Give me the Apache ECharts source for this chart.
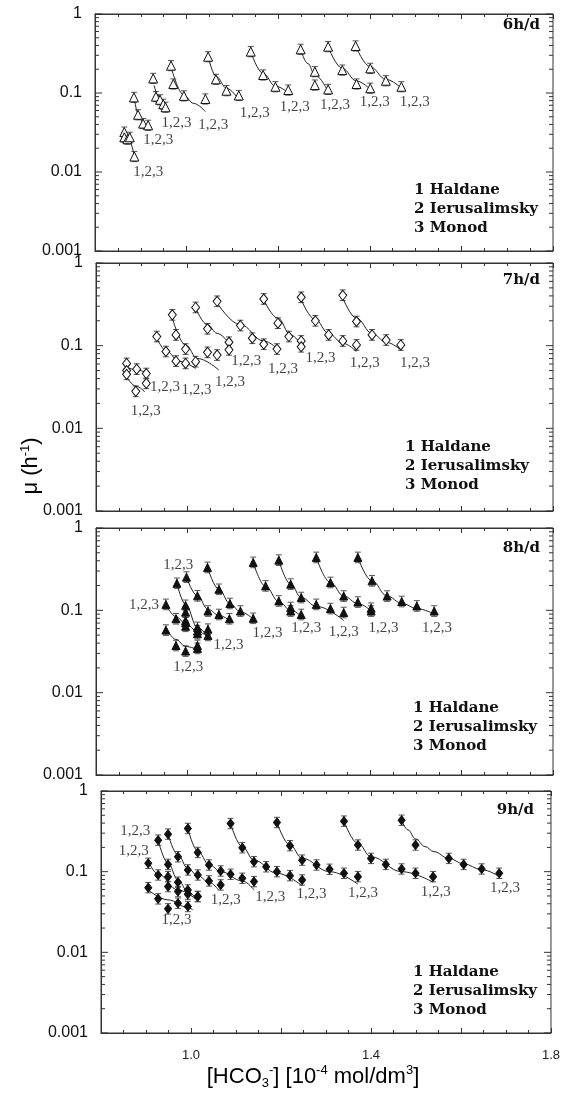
<!DOCTYPE html>
<html>
<head>
<meta charset="utf-8">
<script src="https://cdn.jsdelivr.net/npm/echarts@6/dist/echarts.min.js"></script>
<style>
  html, body { margin: 0; padding: 0; background: #fff; }
  #chart { width: 563px; height: 1095px; }
</style>
</head>
<body>
<div id="chart"></div>
<script>
// text
var PANEL_TAGS = ['6h/d', '7h/d', '8h/d', '9h/d'];
var LEGEND_LINES = ['1 Haldane', '2 Ierusalimsky', '3 Monod'];
var GROUP_LABEL = '1,2,3';
var X_TICK_LABELS = ['1.0', '1.4', '1.8'];
var Y_TICK_LABELS = ['0.001', '0.01', '0.1', '1'];
var Y_MAJOR = [0.001, 0.01, 0.1, 1];
var Y_MINOR = [0.002, 0.003, 0.004, 0.005, 0.006, 0.007, 0.008, 0.009,
               0.02, 0.03, 0.04, 0.05, 0.06, 0.07, 0.08, 0.09,
               0.2, 0.3, 0.4, 0.5, 0.6, 0.7, 0.8, 0.9];
var ERR = 1.16; // error bars, read as roughly +/-16 %

// 6 h/d : measured points per run, fitted curves, label spots
var p6Points = [
  [[0.864, 0.032], [0.864, 0.0275], [0.871, 0.026], [0.876, 0.0275], [0.886, 0.0157]],
  [[0.885, 0.088], [0.894, 0.053], [0.905, 0.041], [0.916, 0.039]],
  [[0.927, 0.153], [0.933, 0.090], [0.942, 0.082], [0.949, 0.072], [0.954, 0.066]],
  [[0.966, 0.222], [0.971, 0.130], [0.994, 0.092], [1.041, 0.084]],
  [[1.047, 0.288], [1.064, 0.149], [1.087, 0.107], [1.114, 0.093]],
  [[1.140, 0.334], [1.167, 0.169], [1.194, 0.120], [1.222, 0.109]],
  [[1.249, 0.357], [1.280, 0.186], [1.280, 0.126], [1.309, 0.111]],
  [[1.309, 0.386], [1.340, 0.195], [1.371, 0.130], [1.401, 0.115]],
  [[1.369, 0.394], [1.401, 0.205], [1.435, 0.143], [1.469, 0.120]]
];
var p6Fits = [
  [[0.866, 0.030], [0.876, 0.024], [0.886, 0.0156]],
  [[0.885, 0.092], [0.894, 0.055], [0.906, 0.041], [0.916, 0.035]],
  [[0.929, 0.125], [0.937, 0.095], [0.945, 0.077], [0.955, 0.063]],
  [[0.966, 0.215], [0.994, 0.094], [1.015, 0.074], [1.041, 0.058]],
  [[1.047, 0.288], [1.065, 0.161], [1.087, 0.115], [1.114, 0.082]],
  [[1.140, 0.334], [1.167, 0.177], [1.194, 0.122], [1.225, 0.097]],
  [[1.249, 0.357], [1.265, 0.235], [1.280, 0.169], [1.309, 0.104]],
  [[1.309, 0.386], [1.340, 0.205], [1.371, 0.142], [1.401, 0.111]],
  [[1.369, 0.394], [1.401, 0.215], [1.435, 0.149], [1.469, 0.115]]
];
var p6Labels = [[0.916, 0.0101], [0.938, 0.0254], [0.978, 0.0413], [1.058, 0.0394], [1.149, 0.0553],
                [1.236, 0.0671], [1.324, 0.0705], [1.411, 0.0777], [1.498, 0.0777]];

// 7 h/d
var p7Points = [
  [[0.867, 0.061], [0.889, 0.052], [0.910, 0.046]],
  [[0.867, 0.050], [0.867, 0.045], [0.887, 0.028], [0.910, 0.035]],
  [[0.933, 0.129], [0.953, 0.085], [0.975, 0.065], [0.996, 0.061], [1.018, 0.064]],
  [[0.967, 0.236], [0.975, 0.135], [0.996, 0.091], [1.044, 0.083], [1.065, 0.077]],
  [[1.018, 0.290], [1.044, 0.160], [1.091, 0.110], [1.091, 0.089]],
  [[1.065, 0.344], [1.116, 0.175], [1.142, 0.123], [1.167, 0.104], [1.196, 0.091]],
  [[1.167, 0.367], [1.198, 0.187], [1.222, 0.129], [1.249, 0.114], [1.249, 0.097]],
  [[1.249, 0.385], [1.280, 0.200], [1.309, 0.135], [1.340, 0.114], [1.370, 0.102]],
  [[1.340, 0.407], [1.370, 0.196], [1.404, 0.135], [1.435, 0.117], [1.467, 0.102]]
];
var p7Fits = [
  [[0.867, 0.055], [0.889, 0.051], [0.910, 0.047]],
  [[0.867, 0.042], [0.887, 0.0325], [0.907, 0.0275]],
  [[0.933, 0.123], [0.956, 0.085], [0.980, 0.065], [1.018, 0.053]],
  [[0.967, 0.215], [0.996, 0.102], [1.022, 0.070], [1.069, 0.0505]],
  [[1.018, 0.285], [1.044, 0.179], [1.065, 0.141], [1.091, 0.107]],
  [[1.065, 0.330], [1.116, 0.179], [1.167, 0.114], [1.200, 0.0885]],
  [[1.167, 0.360], [1.198, 0.215], [1.226, 0.135], [1.249, 0.102]],
  [[1.249, 0.360], [1.280, 0.206], [1.309, 0.141], [1.340, 0.107], [1.370, 0.0845]],
  [[1.340, 0.378], [1.370, 0.215], [1.404, 0.141], [1.435, 0.110], [1.467, 0.0885]]
];
var p7Labels = [[0.909, 0.0164], [0.951, 0.0316], [1.020, 0.0288], [1.093, 0.0364], [1.129, 0.065],
                [1.209, 0.0519], [1.291, 0.070], [1.388, 0.061], [1.498, 0.061]];

// 8 h/d
var p8Points = [
  [[0.953, 0.0575], [0.975, 0.0374], [0.996, 0.032], [1.022, 0.0374], [1.022, 0.0345]],
  [[0.953, 0.118], [0.975, 0.079], [0.996, 0.071], [1.022, 0.056], [1.045, 0.0496]],
  [[0.977, 0.213], [0.996, 0.115], [0.996, 0.095], [0.996, 0.075], [0.996, 0.064],
   [1.022, 0.062], [1.022, 0.052], [1.045, 0.059]],
  [[0.998, 0.253], [1.022, 0.150], [1.045, 0.098], [1.069, 0.089], [1.092, 0.079]],
  [[1.044, 0.332], [1.069, 0.180], [1.093, 0.121], [1.116, 0.098], [1.144, 0.080]],
  [[1.144, 0.382], [1.171, 0.198], [1.200, 0.130], [1.226, 0.108], [1.226, 0.098], [1.249, 0.089]],
  [[1.200, 0.407], [1.226, 0.208], [1.249, 0.143], [1.282, 0.118], [1.313, 0.105], [1.342, 0.094]],
  [[1.282, 0.439], [1.313, 0.218], [1.342, 0.149], [1.373, 0.126], [1.402, 0.106], [1.402, 0.098]],
  [[1.373, 0.439], [1.404, 0.228], [1.437, 0.149], [1.469, 0.128], [1.502, 0.113], [1.540, 0.098]]
];
var p8Fits = [
  [[0.953, 0.062], [0.975, 0.0443], [0.996, 0.0364], [1.022, 0.0334]],
  [[0.953, 0.118], [0.975, 0.084], [0.996, 0.069], [1.022, 0.0555], [1.045, 0.047]],
  [[0.977, 0.213], [0.996, 0.118], [1.022, 0.062], [1.045, 0.047]],
  [[0.998, 0.253], [1.022, 0.150], [1.045, 0.103], [1.069, 0.087], [1.092, 0.075]],
  [[1.044, 0.332], [1.069, 0.180], [1.093, 0.121], [1.116, 0.096], [1.144, 0.078]],
  [[1.144, 0.382], [1.171, 0.195], [1.200, 0.128], [1.226, 0.100], [1.249, 0.085]],
  [[1.200, 0.407], [1.226, 0.208], [1.249, 0.143], [1.282, 0.112], [1.342, 0.075]],
  [[1.282, 0.439], [1.313, 0.218], [1.342, 0.149], [1.373, 0.121], [1.402, 0.098]],
  [[1.373, 0.439], [1.404, 0.228], [1.437, 0.149], [1.469, 0.122], [1.502, 0.105], [1.540, 0.090]]
];
var p8Labels = [[0.905, 0.116], [0.980, 0.350], [1.002, 0.0202], [1.090, 0.0374], [1.175, 0.0535],
                [1.260, 0.0603], [1.342, 0.055], [1.429, 0.0603], [1.546, 0.0603]];

// 9 h/d
var p9Points = [
  [[0.905, 0.0634], [0.927, 0.046], [0.949, 0.0346], [0.971, 0.0406], [0.993, 0.037]],
  [[0.905, 0.127], [0.927, 0.091], [0.949, 0.0653], [0.971, 0.0567], [0.993, 0.0526], [1.015, 0.0492]],
  [[0.927, 0.246], [0.949, 0.123], [0.949, 0.0868], [0.971, 0.074], [0.993, 0.0594], [1.015, 0.0492]],
  [[0.949, 0.292], [0.971, 0.153], [0.993, 0.105], [1.015, 0.091], [1.040, 0.0768], [1.066, 0.0685]],
  [[0.993, 0.343], [1.015, 0.173], [1.040, 0.121], [1.066, 0.102], [1.088, 0.0928], [1.114, 0.0828], [1.140, 0.0753]],
  [[1.088, 0.395], [1.114, 0.198], [1.140, 0.133], [1.167, 0.115], [1.191, 0.100], [1.220, 0.0893], [1.247, 0.0789]],
  [[1.191, 0.407], [1.220, 0.210], [1.247, 0.139], [1.279, 0.121], [1.308, 0.107], [1.340, 0.0955], [1.371, 0.0868]],
  [[1.340, 0.423], [1.371, 0.214], [1.400, 0.146], [1.433, 0.123], [1.468, 0.108], [1.499, 0.0955], [1.538, 0.0868]],
  [[1.468, 0.434], [1.499, 0.214], [1.573, 0.146], [1.606, 0.123], [1.646, 0.108], [1.685, 0.0955]]
];
var p9Fits = [
  [[0.905, 0.0594], [0.949, 0.0447], [0.993, 0.036], [1.004, 0.0336]],
  [[0.905, 0.1355], [0.927, 0.0928], [0.971, 0.0594], [1.015, 0.0435]],
  [[0.927, 0.246], [0.949, 0.127], [0.971, 0.0789], [0.993, 0.0567], [1.015, 0.0426]],
  [[0.949, 0.292], [0.971, 0.161], [0.993, 0.110], [1.015, 0.0893], [1.040, 0.074], [1.061, 0.0594]],
  [[0.993, 0.343], [1.015, 0.180], [1.040, 0.123], [1.066, 0.100], [1.114, 0.0768], [1.140, 0.0594]],
  [[1.088, 0.395], [1.114, 0.204], [1.140, 0.139], [1.191, 0.0955], [1.247, 0.0665]],
  [[1.191, 0.407], [1.220, 0.214], [1.247, 0.146], [1.308, 0.100], [1.371, 0.070]],
  [[1.340, 0.423], [1.371, 0.224], [1.400, 0.153], [1.468, 0.100], [1.538, 0.074]],
  [[1.468, 0.434], [1.482, 0.330], [1.499, 0.255], [1.520, 0.205], [1.540, 0.177], [1.573, 0.146],
   [1.606, 0.125], [1.646, 0.106], [1.685, 0.0868]]
];
var p9Labels = [[0.968, 0.0248], [0.873, 0.180], [0.876, 0.318], [1.077, 0.0447], [1.176, 0.0478],
                [1.268, 0.0525], [1.382, 0.054], [1.544, 0.0556], [1.698, 0.0623]];

var X_MIN = 0.8, X_MAX = 1.8;
var INK = '#111';
var AXIS_COLOR = '#333';

var panels = [
  { points: p6Points, fits: p6Fits, labels: p6Labels, symbol: 'triangle', size: 9, fill: '#fff',
    grid: { left: 95, top: 14, width: 458, height: 237 }, tag: [540, 25], legend: [414, 190] },
  { points: p7Points, fits: p7Fits, labels: p7Labels, symbol: 'diamond', size: [8, 10], fill: '#fff',
    grid: { left: 96, top: 263, width: 457, height: 248 }, tag: [540, 280], legend: [405, 447] },
  { points: p8Points, fits: p8Fits, labels: p8Labels, symbol: 'triangle', size: 8, fill: INK,
    grid: { left: 96, top: 528, width: 457, height: 247 }, tag: [540, 548], legend: [413, 708] },
  { points: p9Points, fits: p9Fits, labels: p9Labels, symbol: 'diamond', size: [7, 9], fill: INK,
    grid: { left: 101, top: 791, width: 453, height: 242 }, tag: [534, 810], legend: [413, 972] }
];

function renderTicks(params, api) {
  var v = api.value(1), len = api.value(2);
  var l = api.coord([X_MIN, v]), r = api.coord([X_MAX, v]);
  var st = { stroke: AXIS_COLOR, lineWidth: 1 };
  return { type: 'group', children: [
    { type: 'line', shape: { x1: l[0], y1: l[1], x2: l[0] + len, y2: l[1] }, style: st },
    { type: 'line', shape: { x1: r[0], y1: r[1], x2: r[0] - len, y2: r[1] }, style: st }
  ] };
}

function renderErr(params, api) {
  var x = api.value(0);
  var lo = api.coord([x, api.value(1)]), hi = api.coord([x, api.value(2)]);
  var w = 3;
  var st = { stroke: '#555', lineWidth: 1 };
  return { type: 'group', children: [
    { type: 'line', shape: { x1: lo[0], y1: lo[1], x2: hi[0], y2: hi[1] }, style: st },
    { type: 'line', shape: { x1: hi[0] - w, y1: hi[1], x2: hi[0] + w, y2: hi[1] }, style: st },
    { type: 'line', shape: { x1: lo[0] - w, y1: lo[1], x2: lo[0] + w, y2: lo[1] }, style: st }
  ] };
}

var grids = [], xAxes = [], yAxes = [], series = [], graphics = [];
var tickData = Y_MAJOR.map(function (v) { return [X_MIN, v, 7]; })
  .concat(Y_MINOR.map(function (v) { return [X_MIN, v, 4]; }));

panels.forEach(function (p, i) {
  grids.push(Object.assign({ show: true, borderColor: AXIS_COLOR, borderWidth: 1, backgroundColor: '#fff' }, p.grid));

  var xBase = {
    type: 'value', gridIndex: i, min: X_MIN, max: X_MAX, interval: 0.2,
    axisLine: { show: true, lineStyle: { color: AXIS_COLOR } },
    axisTick: { show: true, inside: true, length: 5, lineStyle: { color: AXIS_COLOR } },
    minorTick: { show: true, splitNumber: 4, length: 3, lineStyle: { color: AXIS_COLOR } },
    splitLine: { show: false }, minorSplitLine: { show: false }
  };
  xAxes.push(Object.assign({}, xBase, {
    position: 'bottom',
    axisLabel: {
      show: i === 3, margin: 16, color: '#222', fontFamily: 'Liberation Sans', fontSize: 13,
      showMinLabel: true, showMaxLabel: true,
      formatter: function (v) { var s = v.toFixed(1); return X_TICK_LABELS.indexOf(s) >= 0 ? s : ''; }
    }
  }));
  xAxes.push(Object.assign({}, xBase, { position: 'top', axisLabel: { show: false } }));

  yAxes.push({
    type: 'log', logBase: 10, gridIndex: i, min: 0.001, max: 1,
    axisLine: { show: true, lineStyle: { color: AXIS_COLOR } },
    axisTick: { show: false }, splitLine: { show: false },
    axisLabel: {
      margin: 13, color: INK, fontFamily: 'Liberation Sans', fontSize: 16,
      showMinLabel: true, showMaxLabel: true,
      formatter: function (v) { return Y_TICK_LABELS[Math.round(Math.log10(v)) + 3] || ''; }
    }
  });

  var xi = i * 2;
  series.push({
    type: 'custom', xAxisIndex: xi, yAxisIndex: i, renderItem: renderTicks,
    data: tickData, silent: true, clip: false, z: 1
  });

  var flat = [];
  p.points.forEach(function (g) { g.forEach(function (pt) { flat.push(pt); }); });

  series.push({
    type: 'custom', xAxisIndex: xi, yAxisIndex: i, renderItem: renderErr, silent: true, z: 2,
    data: flat.map(function (pt) { return [pt[0], pt[1] / ERR, pt[1] * ERR]; })
  });

  p.fits.forEach(function (f) {
    series.push({
      type: 'line', xAxisIndex: xi, yAxisIndex: i, data: f, smooth: 0.4, smoothMonotone: 'x',
      showSymbol: false, symbol: 'none', silent: true, z: 3,
      lineStyle: { color: '#222', width: 1 }
    });
  });

  series.push({
    type: 'scatter', xAxisIndex: xi, yAxisIndex: i, data: flat, symbol: p.symbol, symbolSize: p.size,
    itemStyle: { color: p.fill, borderColor: INK, borderWidth: 1, opacity: 1 }, silent: true, z: 4
  });

  series.push({
    type: 'scatter', xAxisIndex: xi, yAxisIndex: i, data: p.labels, symbolSize: 1,
    itemStyle: { color: 'transparent' }, silent: true, z: 5,
    label: { show: true, position: 'inside', formatter: GROUP_LABEL, color: INK,
             fontFamily: 'Liberation Serif', fontSize: 15 }
  });

  graphics.push({
    type: 'text', x: p.tag[0], y: p.tag[1], silent: true,
    style: { text: PANEL_TAGS[i], fill: INK, font: 'bold 15px "DejaVu Serif"', textAlign: 'right', textVerticalAlign: 'middle' }
  });
  LEGEND_LINES.forEach(function (t, k) {
    graphics.push({
      type: 'text', x: p.legend[0], y: p.legend[1] + k * 19.3, silent: true,
      style: { text: t, fill: INK, font: 'bold 15px "DejaVu Serif"', textAlign: 'left', textVerticalAlign: 'middle' }
    });
  });
});

// axis titles
graphics.push({
  type: 'text', x: 31, y: 466, rotation: Math.PI / 2, silent: true,
  style: {
    text: '{a|μ (h}{s|-1}{a|)}', textAlign: 'center', textVerticalAlign: 'middle',
    rich: {
      a: { fontFamily: 'Liberation Sans', fontSize: 22, color: INK, lineHeight: 24 },
      s: { fontFamily: 'Liberation Sans', fontSize: 13, color: INK, verticalAlign: 'top', lineHeight: 24 }
    }
  }
});
graphics.push({
  type: 'text', x: 313, y: 1077, silent: true,
  style: {
    text: '{a|[HCO}{b|3}{c|-}{a|] [10}{c|-4}{a| mol/dm}{c|3}{a|]}', textAlign: 'center', textVerticalAlign: 'middle',
    rich: {
      a: { fontFamily: 'Liberation Sans', fontSize: 22, color: INK, lineHeight: 26 },
      b: { fontFamily: 'Liberation Sans', fontSize: 13, color: INK, verticalAlign: 'bottom', lineHeight: 26 },
      c: { fontFamily: 'Liberation Sans', fontSize: 13, color: INK, verticalAlign: 'top', lineHeight: 26 }
    }
  }
});

var chart = echarts.init(document.getElementById('chart'));
chart.setOption({
  backgroundColor: '#fff',
  animation: false,
  grid: grids,
  xAxis: xAxes,
  yAxis: yAxes,
  series: series,
  graphic: graphics
});
</script>
</body>
</html>
